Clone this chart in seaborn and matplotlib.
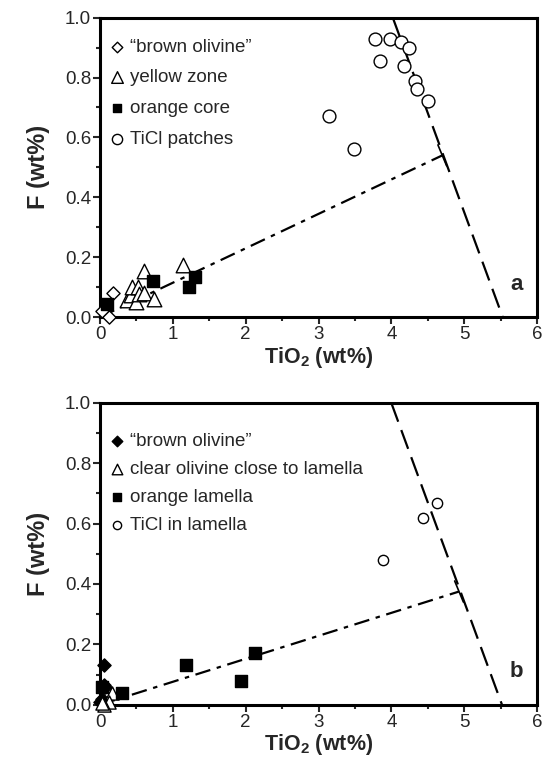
#!/usr/bin/env python3
"""F vs TiO2 in olivine zones, two panels."""

import matplotlib
matplotlib.use("Agg")
import matplotlib.pyplot as plt
import pandas as pd
import seaborn as sns

# panel a
a_brown_x = [0.02, 0.12, 0.18]
a_brown_y = [0.02, 0.00, 0.08]
a_yellow_x = [0.37, 0.43, 0.44, 0.49, 0.52, 0.54, 0.60, 0.60, 0.74, 1.14]
a_yellow_y = [0.057, 0.073, 0.10, 0.05, 0.10, 0.077, 0.155, 0.08, 0.06, 0.174]
a_orange_x = [0.10, 0.72, 1.22, 1.30]
a_orange_y = [0.043, 0.12, 0.10, 0.135]
a_ticl_x = [3.78, 3.98, 4.13, 4.24, 3.84, 4.18, 4.32, 4.35, 4.51, 3.15, 3.49]
a_ticl_y = [0.93, 0.93, 0.92, 0.90, 0.855, 0.84, 0.79, 0.76, 0.72, 0.67, 0.56]

# panel b
b_brown_x = [0.05, 0.05, 0.00, 0.03, 0.07]
b_brown_y = [0.13, 0.066, 0.01, 0.02, 0.06]
b_clear_x = [0.16, 0.12, 0.06, 0.02]
b_clear_y = [0.04, 0.01, 0.00, 0.005]
b_orange_x = [0.02, 0.30, 1.18, 1.94, 2.13]
b_orange_y = [0.06, 0.04, 0.13, 0.077, 0.17]
b_ticl_x = [4.63, 4.44, 3.88]
b_ticl_y = [0.67, 0.62, 0.48]

# reference lines: dashed boundary and dash-dot trend
a_dash_x, a_dash_y = [4.02, 5.53], [1.0, 0.0]
a_trend_x, a_trend_y = [0.0, 4.70], [0.0, 0.54]
b_dash_x, b_dash_y = [4.00, 5.52], [1.0, 0.0]
b_trend_x, b_trend_y = [0.0, 4.93], [0.0, 0.375]

sns.set_theme(style="white")
plt.rcParams["font.family"] = ["Liberation Sans", "DejaVu Sans"]
plt.rcParams["mathtext.fontset"] = "custom"
plt.rcParams["mathtext.bf"] = "Liberation Sans:bold"


def frame(xs, ys, label):
    return pd.DataFrame({"x": xs, "y": ys, "group": label})


def draw_panel(ax, groups, dash, trend, letter, leg_top, leg_space):
    for df, marker, face, size in groups:
        sns.scatterplot(data=df, x="x", y="y", marker=marker, s=size,
                        facecolor=face, edgecolor="black", linewidth=1.0,
                        label=df["group"].iloc[0], ax=ax, zorder=3, clip_on=False)
    ax.plot(dash[0], dash[1], color="black", lw=1.6, dashes=(9, 4), zorder=2)
    ax.plot(trend[0], trend[1], color="black", lw=1.6, dashes=(7, 3, 2, 3), zorder=2)
    # small perpendicular tick at the trend end
    x1, y1 = trend[0][1], trend[1][1]
    ax.plot([x1 - 0.06, x1 + 0.06], [y1 + 0.035, y1 - 0.035], color="black", lw=1.2)

    ax.set_xlim(0, 6)
    ax.set_ylim(0, 1.0)
    ax.set_xticks(range(0, 7))
    ax.set_xticks([i + 0.5 for i in range(6)], minor=True)
    ax.set_yticks([0.0, 0.2, 0.4, 0.6, 0.8, 1.0])
    ax.set_yticks([0.1, 0.3, 0.5, 0.7, 0.9], minor=True)
    ax.set_yticklabels(["0.0", "0.2", "0.4", "0.6", "0.8", "1.0"])
    ax.tick_params(which="major", direction="out", length=5, width=1.5,
                   labelsize=13.5, bottom=True, left=True, pad=1.5)
    ax.tick_params(which="minor", direction="out", length=3, width=1.5,
                   bottom=True, left=True)
    for sp in ax.spines.values():
        sp.set_linewidth(2.2)
        sp.set_color("black")
    ax.set_xlabel("TiO$_\\mathbf{2}$ (wt%)", fontsize=15.5, fontweight="bold", labelpad=1)
    ax.set_ylabel("F (wt%)", fontsize=17, fontweight="bold", labelpad=11)
    ax.text(5.72, 0.11, letter, fontsize=16, fontweight="bold", ha="center", va="center")
    ax.legend(loc="upper left", bbox_to_anchor=(0.0, leg_top), frameon=False,
              fontsize=13.5, handletextpad=0.2, borderaxespad=0.0, borderpad=0.4,
              labelspacing=leg_space, handlelength=1.0, markerscale=0.8)


fig = plt.figure(figsize=(5.44, 7.66), dpi=100)
ax_a = fig.add_axes([0.184, 0.586, 0.803, 0.391])
ax_b = fig.add_axes([0.184, 0.080, 0.803, 0.394])

groups_a = [
    (frame(a_brown_x, a_brown_y, "\u201cbrown olivine\u201d"), "D", "white", 45),
    (frame(a_yellow_x, a_yellow_y, "yellow zone"), "^", "white", 110),
    (frame(a_orange_x, a_orange_y, "orange core"), "s", "black", 65),
    (frame(a_ticl_x, a_ticl_y, "TiCl patches"), "o", "white", 85),
]
groups_b = [
    (frame(b_brown_x, b_brown_y, "\u201cbrown olivine\u201d"), "D", "black", 45),
    (frame(b_clear_x, b_clear_y, "clear olivine close to lamella"), "^", "white", 90),
    (frame(b_orange_x, b_orange_y, "orange lamella"), "s", "black", 65),
    (frame(b_ticl_x, b_ticl_y, "TiCl in lamella"), "o", "white", 55),
]

draw_panel(ax_a, groups_a, (a_dash_x, a_dash_y), (a_trend_x, a_trend_y), "a", 0.955, 0.72)
draw_panel(ax_b, groups_b, (b_dash_x, b_dash_y), (b_trend_x, b_trend_y), "b", 0.925, 0.58)

fig.savefig("out.png", dpi=100)
